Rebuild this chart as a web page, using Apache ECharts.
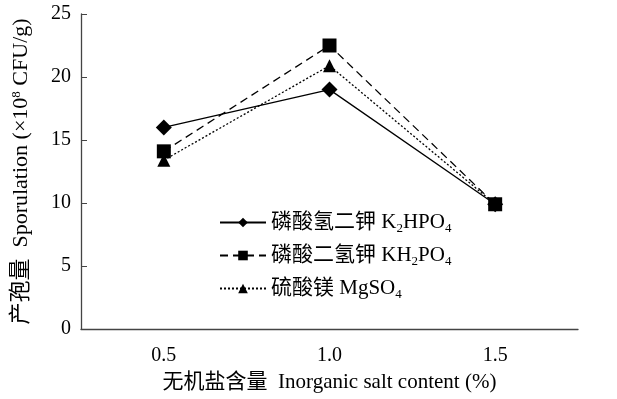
<!DOCTYPE html>
<html><head><meta charset="utf-8">
<script src="https://cdn.jsdelivr.net/npm/echarts@6/dist/echarts.min.js"></script>
<style>html,body{margin:0;padding:0;background:#fff}#c{width:617px;height:399px}</style>
</head><body><div id="c"></div>
<script>
var categories = ['0.5', '1.0', '1.5'];
var k2hpo4 = [16.0, 19.0, 9.9];
var kh2po4 = [14.1, 22.5, 9.9];
var mgso4 = [13.4, 20.9, 9.9];
var seriesNames = ['磷酸氢二钾 K{sub|2}HPO{sub|4}', '磷酸二氢钾 KH{sub|2}PO{sub|4}', '硫酸镁 MgSO{sub|4}'];
var yTicks = [0, 5, 10, 15, 20, 25];

var FONT = '"Liberation Serif", "Times New Roman", "Noto Sans CJK SC", serif';
var chart = echarts.init(document.getElementById('c'));
var subRich = {sub: {fontSize: 13, verticalAlign: 'bottom', padding: [12, 0, 0, 0], fontFamily: FONT, color: '#000'}};
function mk(name, data, sym, size, type) {
  return {
    name: name, type: 'line', data: data, symbol: sym, symbolSize: size,
    lineStyle: {color: '#000', width: 1.3, type: type},
    itemStyle: {color: '#000'},
    animation: false
  };
}
chart.setOption({
  animation: false,
  textStyle: {fontFamily: FONT, color: '#000'},
  grid: {left: 81, top: 14, right: 39, bottom: 70, outerBoundsMode: 'none', containLabel: false},
  legend: {
    orient: 'vertical', left: 214, top: 207, itemGap: 10,
    itemWidth: 46, itemHeight: 12,
    data: seriesNames,
    textStyle: {fontSize: 21, fontFamily: FONT, color: '#000', rich: subRich},
    formatter: function(n){ return n; }
  },
  xAxis: {
    type: 'category', data: categories, boundaryGap: true,
    name: '无机盐含量  Inorganic salt content (%)', nameLocation: 'middle', nameGap: 43,
    nameTextStyle: {fontSize: 21, fontFamily: FONT, color: '#000'},
    axisLine: {lineStyle: {color: '#444', width: 1.3}},
    axisTick: {inside: true, length: 6, lineStyle: {color: '#444'}},
    axisLabel: {fontSize: 20, fontFamily: FONT, color: '#000', margin: 17}
  },
  yAxis: {
    type: 'value', min: yTicks[0], max: yTicks[yTicks.length-1], interval: 5,
    name: '产孢量  Sporulation (×10{sup|8} CFU/g)', nameLocation: 'middle', nameGap: 49,
    nameTextStyle: {fontSize: 22, fontFamily: FONT, color: '#000',
      rich: {sup: {fontSize: 13, verticalAlign: 'top', padding: [0,0,9,0], fontFamily: FONT, color: '#000'}}},
    axisLine: {show: true, lineStyle: {color: '#444', width: 1.3}},
    axisTick: {show: true, inside: true, length: 6, lineStyle: {color: '#444'}},
    splitLine: {show: false},
    axisLabel: {fontSize: 20, fontFamily: FONT, color: '#000', margin: 10}
  },
  series: [
    mk(seriesNames[0], k2hpo4, 'diamond', 16, 'solid'),
    mk(seriesNames[1], kh2po4, 'rect', 14, [8, 5]),
    mk(seriesNames[2], mgso4, 'triangle', 13, [2, 2])
  ]
});
</script></body></html>
